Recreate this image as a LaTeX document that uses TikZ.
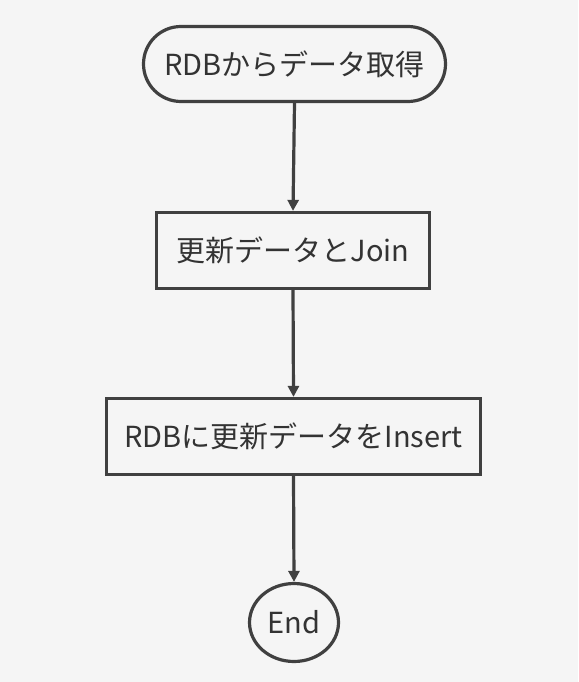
\documentclass[tikz,border=0pt]{standalone}
\usepackage{fontspec}
\setmainfont{Noto Sans CJK JP}
\usetikzlibrary{arrows.meta,shapes.geometric}
\definecolor{bg}{HTML}{F5F5F5}
\definecolor{ln}{HTML}{404040}
\definecolor{tx}{HTML}{333333}
\tikzset{
  box/.style={draw=ln,line width=3.2pt,fill=bg,text=tx,font=\fontsize{29}{33}\selectfont,inner sep=0pt},
  conn/.style={draw=ln,line width=3.2pt,-{Triangle[length=11pt,width=11pt]}}
}
\begin{document}
\begin{tikzpicture}[x=1pt,y=-1pt]
\fill[bg] (0,0) rectangle (578,682);
\useasboundingbox (0,0) rectangle (578,682);
\node[box,rounded corners=37.5pt,minimum width=302pt,minimum height=75pt] (n1) at (294.5,64) {RDBからデータ取得};
\node[box,minimum width=273pt,minimum height=76pt] (n2) at (293,250.5) {更新データとJoin};
\node[box,minimum width=374pt,minimum height=76pt] (n3) at (293.5,436.5) {RDBに更新データをInsert};
\node[box,ellipse,minimum width=89pt,minimum height=78pt] (n4) at (294,622.5) {End};
\draw[conn] (n1.south) -- (n2.north);
\draw[conn] (n2.south) -- (n3.north);
\draw[conn] (n3.south) -- (n4.north);
\end{tikzpicture}
\end{document}
